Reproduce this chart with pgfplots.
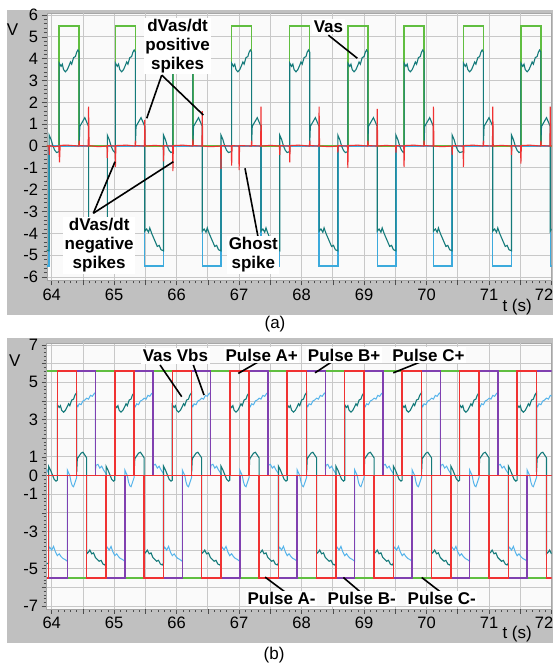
\documentclass[border=0pt]{standalone}
\usepackage{pgfplots}
\pgfplotsset{compat=1.18}
\usepackage{pgfplotstable}
\usepackage{fontspec}
\setmainfont{Liberation Sans}
\definecolor{frame}{RGB}{192,192,192}
\definecolor{gridc}{RGB}{200,200,200}
\definecolor{plotbg}{RGB}{250,250,250}
\definecolor{cgreen}{RGB}{96,190,64}
\definecolor{cblue}{RGB}{60,170,220}
\definecolor{cteal}{RGB}{20,122,122}
\definecolor{cred}{RGB}{240,50,50}
\definecolor{clblue}{RGB}{85,180,235}
\definecolor{cpurple}{RGB}{128,64,176}
\tikzset{lab/.style={fill=white, inner sep=1.5pt, align=center, font=\fontsize{17}{19}\selectfont\bfseries},
 txt/.style={font=\fontsize{17}{19}\selectfont},
 ann/.style={line width=1.6pt, black}}
\pgfplotsset{
 myaxis/.style={
  scale only axis, width=504.8pt, anchor=south west,
  xmin=63.92, xmax=72.0,
  xtick={64,...,72}, xticklabels={64,65,66,67,68,69,70,71,\hspace*{-15pt}72},
  minor x tick num=9,
  extra x ticks={64.5,65.5,66.5,67.5,68.5,69.5,70.5,71.5},
  extra x tick labels={},
  extra x tick style={grid=major},
  xmajorgrids, ymajorgrids,
  grid style={gridc, line width=0.8pt},
  tick align=outside, xtick pos=left, ytick pos=left,
  major tick length=5pt, minor tick length=3pt,
  tick style={black!70, line width=0.6pt},
  axis line style={gray!70},
  axis background/.style={fill=plotbg},
  ticklabel style={font=\fontsize{16.5}{18}\selectfont},
  clip mode=individual,
 }
}

% ---------- top panel data ----------
\pgfplotstableread[row sep=\\]{
t v\\
63.90 -4.75\\ 63.96 -4.8\\ 63.96 0.5\\ 63.99 0.3\\ 64.02 0.0\\ 64.05 -0.2\\ 64.08 -0.3\\
64.12 -0.25\\ 64.12 3.8\\ 64.15 3.65\\ 64.17 3.75\\ 64.19 3.5\\ 64.22 3.4\\ 64.25 3.5\\ 64.28 3.7\\ 64.30 3.85\\ 64.32 3.75\\ 64.35 4.05\\ 64.38 4.1\\ 64.40 4.3\\ 64.42 4.4\\ 64.44 4.3\\ 64.44 0.1\\ 64.45 0.9\\ 64.48 1.05\\ 64.50 1.15\\ 64.53 1.3\\ 64.56 1.1\\ 64.59 0.9\\ 64.59 -3.9\\ 64.62 -3.8\\ 64.65 -3.95\\ 64.67 -3.75\\ 64.70 -4.0\\ 64.73 -4.2\\ 64.76 -4.4\\ 64.79 -4.6\\ 64.82 -4.55\\ 64.85 -4.75\\ 64.89 -4.8\\ 64.89 0.5\\ 64.92 0.3\\ 64.95 0.0\\ 64.98 -0.2\\ 65.01 -0.3\\
65.02 -0.25\\ 65.02 3.8\\ 65.05 3.65\\ 65.07 3.75\\ 65.09 3.5\\ 65.12 3.4\\ 65.15 3.5\\ 65.18 3.7\\ 65.20 3.85\\ 65.22 3.75\\ 65.25 4.05\\ 65.28 4.1\\ 65.30 4.3\\ 65.32 4.4\\ 65.34 4.3\\ 65.34 0.1\\ 65.35 0.9\\ 65.38 1.05\\ 65.40 1.15\\ 65.43 1.3\\ 65.46 1.1\\ 65.49 0.9\\ 65.49 -3.9\\ 65.52 -3.8\\ 65.55 -3.95\\ 65.57 -3.75\\ 65.60 -4.0\\ 65.63 -4.2\\ 65.66 -4.4\\ 65.69 -4.6\\ 65.72 -4.55\\ 65.75 -4.75\\ 65.79 -4.8\\ 65.79 0.5\\ 65.82 0.3\\ 65.85 0.0\\ 65.88 -0.2\\ 65.91 -0.3\\
65.94 -0.25\\ 65.94 3.8\\ 65.97 3.65\\ 65.99 3.75\\ 66.01 3.5\\ 66.04 3.4\\ 66.07 3.5\\ 66.10 3.7\\ 66.12 3.85\\ 66.14 3.75\\ 66.17 4.05\\ 66.20 4.1\\ 66.22 4.3\\ 66.24 4.4\\ 66.26 4.3\\ 66.26 0.1\\ 66.27 0.9\\ 66.30 1.05\\ 66.32 1.15\\ 66.35 1.3\\ 66.38 1.1\\ 66.41 0.9\\ 66.41 -3.9\\ 66.44 -3.8\\ 66.47 -3.95\\ 66.49 -3.75\\ 66.52 -4.0\\ 66.55 -4.2\\ 66.58 -4.4\\ 66.61 -4.6\\ 66.64 -4.55\\ 66.67 -4.75\\ 66.71 -4.8\\ 66.71 0.5\\ 66.74 0.3\\ 66.77 0.0\\ 66.80 -0.2\\ 66.83 -0.3\\
66.88 -0.25\\ 66.88 3.8\\ 66.91 3.65\\ 66.93 3.75\\ 66.95 3.5\\ 66.98 3.4\\ 67.01 3.5\\ 67.04 3.7\\ 67.06 3.85\\ 67.08 3.75\\ 67.11 4.05\\ 67.14 4.1\\ 67.16 4.3\\ 67.18 4.4\\ 67.20 4.3\\ 67.20 0.1\\ 67.21 0.9\\ 67.24 1.05\\ 67.26 1.15\\ 67.29 1.3\\ 67.32 1.1\\ 67.35 0.9\\ 67.35 -3.9\\ 67.38 -3.8\\ 67.41 -3.95\\ 67.43 -3.75\\ 67.46 -4.0\\ 67.49 -4.2\\ 67.52 -4.4\\ 67.55 -4.6\\ 67.58 -4.55\\ 67.61 -4.75\\ 67.65 -4.8\\ 67.65 0.5\\ 67.68 0.3\\ 67.71 0.0\\ 67.74 -0.2\\ 67.77 -0.3\\
67.81 -0.25\\ 67.81 3.8\\ 67.84 3.65\\ 67.86 3.75\\ 67.88 3.5\\ 67.91 3.4\\ 67.94 3.5\\ 67.97 3.7\\ 67.99 3.85\\ 68.01 3.75\\ 68.04 4.05\\ 68.07 4.1\\ 68.09 4.3\\ 68.11 4.4\\ 68.13 4.3\\ 68.13 0.1\\ 68.14 0.9\\ 68.17 1.05\\ 68.19 1.15\\ 68.22 1.3\\ 68.25 1.1\\ 68.28 0.9\\ 68.28 -3.9\\ 68.31 -3.8\\ 68.34 -3.95\\ 68.36 -3.75\\ 68.39 -4.0\\ 68.42 -4.2\\ 68.45 -4.4\\ 68.48 -4.6\\ 68.51 -4.55\\ 68.54 -4.75\\ 68.58 -4.8\\ 68.58 0.5\\ 68.61 0.3\\ 68.64 0.0\\ 68.67 -0.2\\ 68.70 -0.3\\
68.74 -0.25\\ 68.74 3.8\\ 68.77 3.65\\ 68.79 3.75\\ 68.81 3.5\\ 68.84 3.4\\ 68.87 3.5\\ 68.90 3.7\\ 68.92 3.85\\ 68.94 3.75\\ 68.97 4.05\\ 69.00 4.1\\ 69.02 4.3\\ 69.04 4.4\\ 69.06 4.3\\ 69.06 0.1\\ 69.07 0.9\\ 69.10 1.05\\ 69.12 1.15\\ 69.15 1.3\\ 69.18 1.1\\ 69.21 0.9\\ 69.21 -3.9\\ 69.24 -3.8\\ 69.27 -3.95\\ 69.29 -3.75\\ 69.32 -4.0\\ 69.35 -4.2\\ 69.38 -4.4\\ 69.41 -4.6\\ 69.44 -4.55\\ 69.47 -4.75\\ 69.51 -4.8\\ 69.51 0.5\\ 69.54 0.3\\ 69.57 0.0\\ 69.60 -0.2\\ 69.63 -0.3\\
69.64 -0.25\\ 69.64 3.8\\ 69.67 3.65\\ 69.69 3.75\\ 69.71 3.5\\ 69.74 3.4\\ 69.77 3.5\\ 69.80 3.7\\ 69.82 3.85\\ 69.84 3.75\\ 69.87 4.05\\ 69.90 4.1\\ 69.92 4.3\\ 69.94 4.4\\ 69.96 4.3\\ 69.96 0.1\\ 69.97 0.9\\ 70.00 1.05\\ 70.02 1.15\\ 70.05 1.3\\ 70.08 1.1\\ 70.11 0.9\\ 70.11 -3.9\\ 70.14 -3.8\\ 70.17 -3.95\\ 70.19 -3.75\\ 70.22 -4.0\\ 70.25 -4.2\\ 70.28 -4.4\\ 70.31 -4.6\\ 70.34 -4.55\\ 70.37 -4.75\\ 70.41 -4.8\\ 70.41 0.5\\ 70.44 0.3\\ 70.47 0.0\\ 70.50 -0.2\\ 70.53 -0.3\\
70.59 -0.25\\ 70.59 3.8\\ 70.62 3.65\\ 70.64 3.75\\ 70.66 3.5\\ 70.69 3.4\\ 70.72 3.5\\ 70.75 3.7\\ 70.77 3.85\\ 70.79 3.75\\ 70.82 4.05\\ 70.85 4.1\\ 70.87 4.3\\ 70.89 4.4\\ 70.91 4.3\\ 70.91 0.1\\ 70.92 0.9\\ 70.95 1.05\\ 70.97 1.15\\ 71.00 1.3\\ 71.03 1.1\\ 71.06 0.9\\ 71.06 -3.9\\ 71.09 -3.8\\ 71.12 -3.95\\ 71.14 -3.75\\ 71.17 -4.0\\ 71.20 -4.2\\ 71.23 -4.4\\ 71.26 -4.6\\ 71.29 -4.55\\ 71.32 -4.75\\ 71.36 -4.8\\ 71.36 0.5\\ 71.39 0.3\\ 71.42 0.0\\ 71.45 -0.2\\ 71.48 -0.3\\
71.51 -0.25\\ 71.51 3.8\\ 71.54 3.65\\ 71.56 3.75\\ 71.58 3.5\\ 71.61 3.4\\ 71.64 3.5\\ 71.67 3.7\\ 71.69 3.85\\ 71.71 3.75\\ 71.74 4.05\\ 71.77 4.1\\ 71.79 4.3\\ 71.81 4.4\\ 71.83 4.3\\ 71.83 0.1\\ 71.84 0.9\\ 71.87 1.05\\ 71.89 1.15\\ 71.92 1.3\\ 71.95 1.1\\ 71.98 0.9\\ 71.98 -3.9\\ 72.00 -3.8\\
}\vastop

\pgfplotstableread[row sep=\\]{
t v\\
63.92 0\\ 63.955 0\\ 63.96 -0.4\\ 63.965 0.02\\ 64.05 -0.03\\
64.115 0\\ 64.125 -0.75\\ 64.135 0.03\\ 64.25 0.04\\ 64.435 0\\ 64.44 0.25\\ 64.445 0.02\\ 64.585 0\\ 64.59 1.8\\ 64.598 0.02\\ 64.75 -0.03\\ 64.885 0\\ 64.89 -0.55\\ 64.895 0.02\\
65.015 0\\ 65.02 -0.95\\ 65.027 0.02\\ 65.2 0.04\\ 65.335 0\\ 65.34 0.25\\ 65.345 0.02\\ 65.485 0\\ 65.49 1.2\\ 65.497 0\\ 65.65 0.03\\ 65.785 0\\ 65.79 -0.7\\ 65.797 0.02\\
65.935 0\\ 65.94 -1.15\\ 65.947 0.02\\ 66.1 0.04\\ 66.255 0\\ 66.26 0.3\\ 66.265 0.02\\ 66.405 0\\ 66.41 1.6\\ 66.417 0\\ 66.55 -0.03\\ 66.705 0\\ 66.71 -1.05\\ 66.717 0.02\\
66.875 0\\ 66.88 -0.9\\ 66.887 0.02\\ 66.995 0\\ 67.00 -1.1\\ 67.007 0.02\\ 67.195 0\\ 67.20 0.25\\ 67.205 0.02\\ 67.345 0\\ 67.35 1.8\\ 67.357 0\\ 67.5 0.03\\ 67.645 0\\ 67.65 -0.4\\ 67.657 0.02\\
67.805 0\\ 67.81 -0.75\\ 67.817 0.02\\ 67.95 0.04\\ 68.125 0\\ 68.13 0.25\\ 68.135 0.02\\ 68.275 0\\ 68.28 1.8\\ 68.287 0\\ 68.45 -0.03\\ 68.575 0\\ 68.58 -0.3\\ 68.587 0.02\\
68.735 0\\ 68.74 -1.0\\ 68.747 0.02\\ 68.9 0.04\\ 69.055 0\\ 69.06 0.25\\ 69.065 0.02\\ 69.205 0\\ 69.21 1.7\\ 69.217 0\\ 69.35 0.03\\ 69.505 0\\ 69.51 -0.3\\ 69.517 0.02\\
69.635 0\\ 69.64 -0.95\\ 69.647 0.02\\ 69.8 0.04\\ 69.955 0\\ 69.96 0.25\\ 69.965 0.02\\ 70.105 0\\ 70.11 1.8\\ 70.117 0\\ 70.25 -0.03\\ 70.405 0\\ 70.41 -0.4\\ 70.417 0.02\\
70.585 0\\ 70.59 -0.95\\ 70.597 0.02\\ 70.75 0.04\\ 70.905 0\\ 70.91 0.25\\ 70.915 0.02\\ 71.055 0\\ 71.06 1.8\\ 71.067 0\\ 71.2 0.03\\ 71.355 0\\ 71.36 -0.4\\ 71.367 0.02\\
71.505 0\\ 71.51 -0.8\\ 71.517 0.02\\ 71.65 0.04\\ 71.825 0\\ 71.83 0.25\\ 71.835 0.02\\ 71.975 0\\ 71.98 1.8\\ 71.987 0\\ 72.0 0\\
}\dvdt

% ---------- bottom panel data ----------
\pgfplotstableread[row sep=\\]{
t v\\
63.90 -4.75\\ 63.95 -4.7\\ 63.95 0.5\\ 63.98 0.3\\ 64.01 0.05\\ 64.04 -0.2\\ 64.07 -0.3\\
64.09 -0.25\\ 64.09 3.8\\ 64.12 3.65\\ 64.14 3.75\\ 64.16 3.5\\ 64.19 3.4\\ 64.22 3.5\\ 64.25 3.7\\ 64.27 3.85\\ 64.29 3.75\\ 64.32 4.05\\ 64.35 4.1\\ 64.37 4.3\\ 64.40 4.45\\ 64.40 0.2\\ 64.41 0.9\\ 64.44 1.05\\ 64.47 1.2\\ 64.50 1.25\\ 64.53 1.1\\ 64.56 0.95\\ 64.56 -4.2\\ 64.59 -4.1\\ 64.61 -4.0\\ 64.64 -4.2\\ 64.67 -4.15\\ 64.70 -4.4\\ 64.73 -4.5\\ 64.76 -4.6\\ 64.79 -4.55\\ 64.82 -4.75\\ 64.85 -4.8\\ 64.87 -4.7\\ 64.87 0.5\\ 64.90 0.3\\ 64.93 0.05\\ 64.96 -0.2\\ 64.99 -0.3\\
65.01 -0.25\\ 65.01 3.8\\ 65.04 3.65\\ 65.06 3.75\\ 65.08 3.5\\ 65.11 3.4\\ 65.14 3.5\\ 65.17 3.7\\ 65.19 3.85\\ 65.21 3.75\\ 65.24 4.05\\ 65.27 4.1\\ 65.29 4.3\\ 65.32 4.45\\ 65.32 0.2\\ 65.33 0.9\\ 65.36 1.05\\ 65.39 1.2\\ 65.42 1.25\\ 65.45 1.1\\ 65.48 0.95\\ 65.48 -4.2\\ 65.51 -4.1\\ 65.53 -4.0\\ 65.56 -4.2\\ 65.59 -4.15\\ 65.62 -4.4\\ 65.65 -4.5\\ 65.68 -4.6\\ 65.71 -4.55\\ 65.74 -4.75\\ 65.77 -4.8\\ 65.79 -4.7\\ 65.79 0.5\\ 65.82 0.3\\ 65.85 0.05\\ 65.88 -0.2\\ 65.91 -0.3\\
65.93 -0.25\\ 65.93 3.8\\ 65.96 3.65\\ 65.98 3.75\\ 66.00 3.5\\ 66.03 3.4\\ 66.06 3.5\\ 66.09 3.7\\ 66.11 3.85\\ 66.13 3.75\\ 66.16 4.05\\ 66.19 4.1\\ 66.21 4.3\\ 66.24 4.45\\ 66.24 0.2\\ 66.25 0.9\\ 66.28 1.05\\ 66.31 1.2\\ 66.34 1.25\\ 66.37 1.1\\ 66.40 0.95\\ 66.40 -4.2\\ 66.43 -4.1\\ 66.45 -4.0\\ 66.48 -4.2\\ 66.51 -4.15\\ 66.54 -4.4\\ 66.57 -4.5\\ 66.60 -4.6\\ 66.63 -4.55\\ 66.66 -4.75\\ 66.69 -4.8\\ 66.71 -4.7\\ 66.71 0.5\\ 66.74 0.3\\ 66.77 0.05\\ 66.80 -0.2\\ 66.83 -0.3\\
66.85 -0.25\\ 66.85 3.8\\ 66.88 3.65\\ 66.90 3.75\\ 66.92 3.5\\ 66.95 3.4\\ 66.98 3.5\\ 67.01 3.7\\ 67.03 3.85\\ 67.05 3.75\\ 67.08 4.05\\ 67.11 4.1\\ 67.13 4.3\\ 67.16 4.45\\ 67.16 0.2\\ 67.17 0.9\\ 67.20 1.05\\ 67.23 1.2\\ 67.26 1.25\\ 67.29 1.1\\ 67.32 0.95\\ 67.32 -4.2\\ 67.35 -4.1\\ 67.37 -4.0\\ 67.40 -4.2\\ 67.43 -4.15\\ 67.46 -4.4\\ 67.49 -4.5\\ 67.52 -4.6\\ 67.55 -4.55\\ 67.58 -4.75\\ 67.61 -4.8\\ 67.63 -4.7\\ 67.63 0.5\\ 67.66 0.3\\ 67.69 0.05\\ 67.72 -0.2\\ 67.75 -0.3\\
67.77 -0.25\\ 67.77 3.8\\ 67.80 3.65\\ 67.82 3.75\\ 67.84 3.5\\ 67.87 3.4\\ 67.90 3.5\\ 67.93 3.7\\ 67.95 3.85\\ 67.97 3.75\\ 68.00 4.05\\ 68.03 4.1\\ 68.05 4.3\\ 68.08 4.45\\ 68.08 0.2\\ 68.09 0.9\\ 68.12 1.05\\ 68.15 1.2\\ 68.18 1.25\\ 68.21 1.1\\ 68.24 0.95\\ 68.24 -4.2\\ 68.27 -4.1\\ 68.29 -4.0\\ 68.32 -4.2\\ 68.35 -4.15\\ 68.38 -4.4\\ 68.41 -4.5\\ 68.44 -4.6\\ 68.47 -4.55\\ 68.50 -4.75\\ 68.53 -4.8\\ 68.55 -4.7\\ 68.55 0.5\\ 68.58 0.3\\ 68.61 0.05\\ 68.64 -0.2\\ 68.67 -0.3\\
68.69 -0.25\\ 68.69 3.8\\ 68.72 3.65\\ 68.74 3.75\\ 68.76 3.5\\ 68.79 3.4\\ 68.82 3.5\\ 68.85 3.7\\ 68.87 3.85\\ 68.89 3.75\\ 68.92 4.05\\ 68.95 4.1\\ 68.97 4.3\\ 69.00 4.45\\ 69.00 0.2\\ 69.01 0.9\\ 69.04 1.05\\ 69.07 1.2\\ 69.10 1.25\\ 69.13 1.1\\ 69.16 0.95\\ 69.16 -4.2\\ 69.19 -4.1\\ 69.21 -4.0\\ 69.24 -4.2\\ 69.27 -4.15\\ 69.30 -4.4\\ 69.33 -4.5\\ 69.36 -4.6\\ 69.39 -4.55\\ 69.42 -4.75\\ 69.45 -4.8\\ 69.47 -4.7\\ 69.47 0.5\\ 69.50 0.3\\ 69.53 0.05\\ 69.56 -0.2\\ 69.59 -0.3\\
69.61 -0.25\\ 69.61 3.8\\ 69.64 3.65\\ 69.66 3.75\\ 69.68 3.5\\ 69.71 3.4\\ 69.74 3.5\\ 69.77 3.7\\ 69.79 3.85\\ 69.81 3.75\\ 69.84 4.05\\ 69.87 4.1\\ 69.89 4.3\\ 69.92 4.45\\ 69.92 0.2\\ 69.93 0.9\\ 69.96 1.05\\ 69.99 1.2\\ 70.02 1.25\\ 70.05 1.1\\ 70.08 0.95\\ 70.08 -4.2\\ 70.11 -4.1\\ 70.13 -4.0\\ 70.16 -4.2\\ 70.19 -4.15\\ 70.22 -4.4\\ 70.25 -4.5\\ 70.28 -4.6\\ 70.31 -4.55\\ 70.34 -4.75\\ 70.37 -4.8\\ 70.39 -4.7\\ 70.39 0.5\\ 70.42 0.3\\ 70.45 0.05\\ 70.48 -0.2\\ 70.51 -0.3\\
70.53 -0.25\\ 70.53 3.8\\ 70.56 3.65\\ 70.58 3.75\\ 70.60 3.5\\ 70.63 3.4\\ 70.66 3.5\\ 70.69 3.7\\ 70.71 3.85\\ 70.73 3.75\\ 70.76 4.05\\ 70.79 4.1\\ 70.81 4.3\\ 70.84 4.45\\ 70.84 0.2\\ 70.85 0.9\\ 70.88 1.05\\ 70.91 1.2\\ 70.94 1.25\\ 70.97 1.1\\ 71.00 0.95\\ 71.00 -4.2\\ 71.03 -4.1\\ 71.05 -4.0\\ 71.08 -4.2\\ 71.11 -4.15\\ 71.14 -4.4\\ 71.17 -4.5\\ 71.20 -4.6\\ 71.23 -4.55\\ 71.26 -4.75\\ 71.29 -4.8\\ 71.31 -4.7\\ 71.31 0.5\\ 71.34 0.3\\ 71.37 0.05\\ 71.40 -0.2\\ 71.43 -0.3\\
71.45 -0.25\\ 71.45 3.8\\ 71.48 3.65\\ 71.50 3.75\\ 71.52 3.5\\ 71.55 3.4\\ 71.58 3.5\\ 71.61 3.7\\ 71.63 3.85\\ 71.65 3.75\\ 71.68 4.05\\ 71.71 4.1\\ 71.73 4.3\\ 71.76 4.45\\ 71.76 0.2\\ 71.77 0.9\\ 71.80 1.05\\ 71.83 1.2\\ 71.86 1.25\\ 71.89 1.1\\ 71.92 0.95\\ 71.92 -4.2\\ 71.95 -4.1\\ 71.97 -4.0\\ 72.00 -4.2\\
}\vasbot

\pgfplotstableread[row sep=\\]{
t v\\
63.92 0.35\\ 63.95 0.1\\ 63.95 -3.95\\ 63.97 -3.85\\ 64.00 -4.0\\ 64.03 -3.8\\ 64.06 -4.1\\
64.09 -4.3\\ 64.12 -4.2\\ 64.15 -4.35\\ 64.18 -4.45\\ 64.21 -4.5\\ 64.25 -4.6\\ 64.25 0.3\\ 64.27 0.15\\ 64.29 0.0\\ 64.31 -0.35\\ 64.33 -0.55\\ 64.35 -0.6\\ 64.37 -0.4\\ 64.40 -0.1\\ 64.40 3.8\\ 64.42 3.7\\ 64.44 3.85\\ 64.47 3.8\\ 64.50 4.0\\ 64.53 4.05\\ 64.56 4.15\\ 64.59 4.1\\ 64.62 4.3\\ 64.65 4.25\\ 64.68 4.4\\ 64.70 4.45\\ 64.70 0.3\\ 64.71 0.55\\ 64.74 0.6\\ 64.77 0.4\\ 64.80 0.5\\ 64.83 0.3\\ 64.87 0.1\\ 64.87 -3.95\\ 64.89 -3.85\\ 64.92 -4.0\\ 64.95 -3.8\\ 64.98 -4.1\\
65.01 -4.3\\ 65.04 -4.2\\ 65.07 -4.35\\ 65.10 -4.45\\ 65.13 -4.5\\ 65.17 -4.6\\ 65.17 0.3\\ 65.19 0.15\\ 65.21 0.0\\ 65.23 -0.35\\ 65.25 -0.55\\ 65.27 -0.6\\ 65.29 -0.4\\ 65.32 -0.1\\ 65.32 3.8\\ 65.34 3.7\\ 65.36 3.85\\ 65.39 3.8\\ 65.42 4.0\\ 65.45 4.05\\ 65.48 4.15\\ 65.51 4.1\\ 65.54 4.3\\ 65.57 4.25\\ 65.60 4.4\\ 65.62 4.45\\ 65.62 0.3\\ 65.63 0.55\\ 65.66 0.6\\ 65.69 0.4\\ 65.72 0.5\\ 65.75 0.3\\ 65.79 0.1\\ 65.79 -3.95\\ 65.81 -3.85\\ 65.84 -4.0\\ 65.87 -3.8\\ 65.90 -4.1\\
65.93 -4.3\\ 65.96 -4.2\\ 65.99 -4.35\\ 66.02 -4.45\\ 66.05 -4.5\\ 66.09 -4.6\\ 66.09 0.3\\ 66.11 0.15\\ 66.13 0.0\\ 66.15 -0.35\\ 66.17 -0.55\\ 66.19 -0.6\\ 66.21 -0.4\\ 66.24 -0.1\\ 66.24 3.8\\ 66.26 3.7\\ 66.28 3.85\\ 66.31 3.8\\ 66.34 4.0\\ 66.37 4.05\\ 66.40 4.15\\ 66.43 4.1\\ 66.46 4.3\\ 66.49 4.25\\ 66.52 4.4\\ 66.54 4.45\\ 66.54 0.3\\ 66.55 0.55\\ 66.58 0.6\\ 66.61 0.4\\ 66.64 0.5\\ 66.67 0.3\\ 66.71 0.1\\ 66.71 -3.95\\ 66.73 -3.85\\ 66.76 -4.0\\ 66.79 -3.8\\ 66.82 -4.1\\
66.85 -4.3\\ 66.88 -4.2\\ 66.91 -4.35\\ 66.94 -4.45\\ 66.97 -4.5\\ 67.01 -4.6\\ 67.01 0.3\\ 67.03 0.15\\ 67.05 0.0\\ 67.07 -0.35\\ 67.09 -0.55\\ 67.11 -0.6\\ 67.13 -0.4\\ 67.16 -0.1\\ 67.16 3.8\\ 67.18 3.7\\ 67.20 3.85\\ 67.23 3.8\\ 67.26 4.0\\ 67.29 4.05\\ 67.32 4.15\\ 67.35 4.1\\ 67.38 4.3\\ 67.41 4.25\\ 67.44 4.4\\ 67.46 4.45\\ 67.46 0.3\\ 67.47 0.55\\ 67.50 0.6\\ 67.53 0.4\\ 67.56 0.5\\ 67.59 0.3\\ 67.63 0.1\\ 67.63 -3.95\\ 67.65 -3.85\\ 67.68 -4.0\\ 67.71 -3.8\\ 67.74 -4.1\\
67.77 -4.3\\ 67.80 -4.2\\ 67.83 -4.35\\ 67.86 -4.45\\ 67.89 -4.5\\ 67.93 -4.6\\ 67.93 0.3\\ 67.95 0.15\\ 67.97 0.0\\ 67.99 -0.35\\ 68.01 -0.55\\ 68.03 -0.6\\ 68.05 -0.4\\ 68.08 -0.1\\ 68.08 3.8\\ 68.10 3.7\\ 68.12 3.85\\ 68.15 3.8\\ 68.18 4.0\\ 68.21 4.05\\ 68.24 4.15\\ 68.27 4.1\\ 68.30 4.3\\ 68.33 4.25\\ 68.36 4.4\\ 68.38 4.45\\ 68.38 0.3\\ 68.39 0.55\\ 68.42 0.6\\ 68.45 0.4\\ 68.48 0.5\\ 68.51 0.3\\ 68.55 0.1\\ 68.55 -3.95\\ 68.57 -3.85\\ 68.60 -4.0\\ 68.63 -3.8\\ 68.66 -4.1\\
68.69 -4.3\\ 68.72 -4.2\\ 68.75 -4.35\\ 68.78 -4.45\\ 68.81 -4.5\\ 68.85 -4.6\\ 68.85 0.3\\ 68.87 0.15\\ 68.89 0.0\\ 68.91 -0.35\\ 68.93 -0.55\\ 68.95 -0.6\\ 68.97 -0.4\\ 69.00 -0.1\\ 69.00 3.8\\ 69.02 3.7\\ 69.04 3.85\\ 69.07 3.8\\ 69.10 4.0\\ 69.13 4.05\\ 69.16 4.15\\ 69.19 4.1\\ 69.22 4.3\\ 69.25 4.25\\ 69.28 4.4\\ 69.30 4.45\\ 69.30 0.3\\ 69.31 0.55\\ 69.34 0.6\\ 69.37 0.4\\ 69.40 0.5\\ 69.43 0.3\\ 69.47 0.1\\ 69.47 -3.95\\ 69.49 -3.85\\ 69.52 -4.0\\ 69.55 -3.8\\ 69.58 -4.1\\
69.61 -4.3\\ 69.64 -4.2\\ 69.67 -4.35\\ 69.70 -4.45\\ 69.73 -4.5\\ 69.77 -4.6\\ 69.77 0.3\\ 69.79 0.15\\ 69.81 0.0\\ 69.83 -0.35\\ 69.85 -0.55\\ 69.87 -0.6\\ 69.89 -0.4\\ 69.92 -0.1\\ 69.92 3.8\\ 69.94 3.7\\ 69.96 3.85\\ 69.99 3.8\\ 70.02 4.0\\ 70.05 4.05\\ 70.08 4.15\\ 70.11 4.1\\ 70.14 4.3\\ 70.17 4.25\\ 70.20 4.4\\ 70.22 4.45\\ 70.22 0.3\\ 70.23 0.55\\ 70.26 0.6\\ 70.29 0.4\\ 70.32 0.5\\ 70.35 0.3\\ 70.39 0.1\\ 70.39 -3.95\\ 70.41 -3.85\\ 70.44 -4.0\\ 70.47 -3.8\\ 70.50 -4.1\\
70.53 -4.3\\ 70.56 -4.2\\ 70.59 -4.35\\ 70.62 -4.45\\ 70.65 -4.5\\ 70.69 -4.6\\ 70.69 0.3\\ 70.71 0.15\\ 70.73 0.0\\ 70.75 -0.35\\ 70.77 -0.55\\ 70.79 -0.6\\ 70.81 -0.4\\ 70.84 -0.1\\ 70.84 3.8\\ 70.86 3.7\\ 70.88 3.85\\ 70.91 3.8\\ 70.94 4.0\\ 70.97 4.05\\ 71.00 4.15\\ 71.03 4.1\\ 71.06 4.3\\ 71.09 4.25\\ 71.12 4.4\\ 71.14 4.45\\ 71.14 0.3\\ 71.15 0.55\\ 71.18 0.6\\ 71.21 0.4\\ 71.24 0.5\\ 71.27 0.3\\ 71.31 0.1\\ 71.31 -3.95\\ 71.33 -3.85\\ 71.36 -4.0\\ 71.39 -3.8\\ 71.42 -4.1\\
71.45 -4.3\\ 71.48 -4.2\\ 71.51 -4.35\\ 71.54 -4.45\\ 71.57 -4.5\\ 71.61 -4.6\\ 71.61 0.3\\ 71.63 0.15\\ 71.65 0.0\\ 71.67 -0.35\\ 71.69 -0.55\\ 71.71 -0.6\\ 71.73 -0.4\\ 71.76 -0.1\\ 71.76 3.8\\ 71.78 3.7\\ 71.80 3.85\\ 71.83 3.8\\ 71.86 4.0\\ 71.89 4.05\\ 71.92 4.15\\ 71.95 4.1\\ 71.98 4.3\\ 72.01 4.25\\
}\vbsbot

\begin{document}
\begin{tikzpicture}[x=1pt,y=1pt]
\path[use as bounding box] (0pt,0pt) rectangle (553pt,666pt);
\fill[white] (0pt,0pt) rectangle (553pt,666pt);
\fill[frame] (7pt,351pt) rectangle (553pt,656pt);
\fill[frame] (7pt,23pt) rectangle (553pt,328pt);

% ================= TOP PANEL =================
\begin{axis}[myaxis, at={(46.7pt,385.7pt)}, height=267pt,
  ymin=-6.15, ymax=6.08, ytick={-6,...,6},
  yticklabels={-6,-5,-4,-3,-2,-1,0,1,2,3,4,5,6}, minor y tick num=4]
\addplot[cgreen, line width=1.4pt] coordinates {(63.92,0) (64.12,0) (64.12,5.5) (64.44,5.5) (64.44,0) (65.02,0) (65.02,5.5) (65.34,5.5) (65.34,0) (65.94,0) (65.94,5.5) (66.26,5.5) (66.26,0) (66.88,0) (66.88,5.5) (67.20,5.5) (67.20,0) (67.81,0) (67.81,5.5) (68.13,5.5) (68.13,0) (68.74,0) (68.74,5.5) (69.06,5.5) (69.06,0) (69.64,0) (69.64,5.5) (69.96,5.5) (69.96,0) (70.59,0) (70.59,5.5) (70.91,5.5) (70.91,0) (71.51,0) (71.51,5.5) (71.83,5.5) (71.83,0) (72.0,0)};
\addplot[cblue, line width=1.4pt] coordinates {(63.92,-5.5) (63.96,-5.5) (63.96,0) (64.59,0) (64.59,-5.5) (64.89,-5.5) (64.89,0) (65.49,0) (65.49,-5.5) (65.79,-5.5) (65.79,0) (66.41,0) (66.41,-5.5) (66.71,-5.5) (66.71,0) (67.35,0) (67.35,-5.5) (67.65,-5.5) (67.65,0) (68.28,0) (68.28,-5.5) (68.58,-5.5) (68.58,0) (69.21,0) (69.21,-5.5) (69.51,-5.5) (69.51,0) (70.11,0) (70.11,-5.5) (70.41,-5.5) (70.41,0) (71.06,0) (71.06,-5.5) (71.36,-5.5) (71.36,0) (71.98,0) (71.98,-5.5) (72.0,-5.5)};
\addplot[cteal, line width=1.1pt] table[x=t, y=v] {\vastop};
\addplot[cred, line width=1.1pt] table[x=t, y=v] {\dvdt};

\draw[ann] (axis cs:65.761,3.25) -- (axis cs:65.521,1.27);
\draw[ann] (axis cs:65.761,3.25) -- (axis cs:66.427,1.42);
\node[lab] at (axis cs:66.015,4.58) {dVas/dt\\positive\\spikes};
\draw[ann] (axis cs:68.428,5.08) -- (axis cs:68.892,4.02);
\node[lab] at (axis cs:68.43,5.46) {Vas};
\draw[ann] (axis cs:64.666,-3.08) -- (axis cs:65.013,-0.72);
\draw[ann] (axis cs:64.666,-3.08) -- (axis cs:65.947,-0.72);
\node[lab] at (axis cs:64.76,-4.54) {dVas/dt\\negative\\spikes};
\draw[ann] (axis cs:67.307,-4.23) -- (axis cs:67.094,-1.02);
\node[lab] at (axis cs:67.227,-4.99) {Ghost\\spike};
\node[txt] at (axis cs:63.372,5.31) {V};
\node[txt] at (axis cs:71.45,-7.40) {t (s)};
\node[txt] at (axis cs:67.574,-8.155) {(a)};
\end{axis}

% ================= BOTTOM PANEL =================
\begin{axis}[myaxis, at={(46.7pt,57.2pt)}, height=265.6pt,
  ymin=-7.15, ymax=7.1, ytick={-7,...,7},
  yticklabels={-7,,-5,,-3,,-1,0,1,,3,,5,,7}, minor y tick num=4]
\addplot[clblue, line width=1.0pt] table[x=t, y=v] {\vbsbot};
\addplot[cteal, line width=1.1pt] table[x=t, y=v] {\vasbot};
% C+ and C- (green)
\addplot[cgreen, line width=1.5pt] coordinates {(63.92,5.6) (64.09,5.6) (64.09,0) (64.70,0) (64.70,5.6) (65.01,5.6) (65.01,0) (65.62,0) (65.62,5.6) (65.93,5.6) (65.93,0) (66.54,0) (66.54,5.6) (66.85,5.6) (66.85,0) (67.46,0) (67.46,5.6) (67.77,5.6) (67.77,0) (68.38,0) (68.38,5.6) (68.69,5.6) (68.69,0) (69.30,0) (69.30,5.6) (69.61,5.6) (69.61,0) (70.22,0) (70.22,5.6) (70.53,5.6) (70.53,0) (71.14,0) (71.14,5.6) (71.45,5.6) (71.45,0) (72.0,0)};
\addplot[cgreen, line width=1.5pt] coordinates {(63.92,0) (64.25,0) (64.25,-5.5) (64.56,-5.5) (64.56,0) (65.17,0) (65.17,-5.5) (65.48,-5.5) (65.48,0) (66.09,0) (66.09,-5.5) (66.40,-5.5) (66.40,0) (67.01,0) (67.01,-5.5) (67.32,-5.5) (67.32,0) (67.93,0) (67.93,-5.5) (68.24,-5.5) (68.24,0) (68.85,0) (68.85,-5.5) (69.16,-5.5) (69.16,0) (69.77,0) (69.77,-5.5) (70.08,-5.5) (70.08,0) (70.69,0) (70.69,-5.5) (71.00,-5.5) (71.00,0) (71.61,0) (71.61,-5.5) (71.92,-5.5) (71.92,0) (72.0,0)};
% B+ and B- (purple)
\addplot[cpurple, line width=1.5pt] coordinates {(63.92,0) (64.40,0) (64.40,5.6) (64.70,5.6) (64.70,0) (65.32,0) (65.32,5.6) (65.62,5.6) (65.62,0) (66.24,0) (66.24,5.6) (66.54,5.6) (66.54,0) (67.16,0) (67.16,5.6) (67.46,5.6) (67.46,0) (68.08,0) (68.08,5.6) (68.38,5.6) (68.38,0) (69.00,0) (69.00,5.6) (69.30,5.6) (69.30,0) (69.92,0) (69.92,5.6) (70.22,5.6) (70.22,0) (70.84,0) (70.84,5.6) (71.14,5.6) (71.14,0) (71.76,0) (71.76,5.6) (72.0,5.6)};
\addplot[cpurple, line width=1.5pt] coordinates {(63.92,0) (63.95,0) (63.95,-5.5) (64.25,-5.5) (64.25,0) (64.87,0) (64.87,-5.5) (65.17,-5.5) (65.17,0) (65.79,0) (65.79,-5.5) (66.09,-5.5) (66.09,0) (66.71,0) (66.71,-5.5) (67.01,-5.5) (67.01,0) (67.63,0) (67.63,-5.5) (67.93,-5.5) (67.93,0) (68.55,0) (68.55,-5.5) (68.85,-5.5) (68.85,0) (69.47,0) (69.47,-5.5) (69.77,-5.5) (69.77,0) (70.39,0) (70.39,-5.5) (70.69,-5.5) (70.69,0) (71.31,0) (71.31,-5.5) (71.61,-5.5) (71.61,0) (72.0,0)};
% A+ and A- (red)
\addplot[cred, line width=1.5pt] coordinates {(63.92,0) (64.09,0) (64.09,5.6) (64.40,5.6) (64.40,0) (65.01,0) (65.01,5.6) (65.32,5.6) (65.32,0) (65.93,0) (65.93,5.6) (66.24,5.6) (66.24,0) (66.85,0) (66.85,5.6) (67.16,5.6) (67.16,0) (67.77,0) (67.77,5.6) (68.08,5.6) (68.08,0) (68.69,0) (68.69,5.6) (69.00,5.6) (69.00,0) (69.61,0) (69.61,5.6) (69.92,5.6) (69.92,0) (70.53,0) (70.53,5.6) (70.84,5.6) (70.84,0) (71.45,0) (71.45,5.6) (71.76,5.6) (71.76,0) (72.0,0)};
\addplot[cred, line width=1.5pt] coordinates {(63.92,-5.5) (63.95,-5.5) (63.95,0) (64.56,0) (64.56,-5.5) (64.87,-5.5) (64.87,0) (65.48,0) (65.48,-5.5) (65.79,-5.5) (65.79,0) (66.40,0) (66.40,-5.5) (66.71,-5.5) (66.71,0) (67.32,0) (67.32,-5.5) (67.63,-5.5) (67.63,0) (68.24,0) (68.24,-5.5) (68.55,-5.5) (68.55,0) (69.16,0) (69.16,-5.5) (69.47,-5.5) (69.47,0) (70.08,0) (70.08,-5.5) (70.39,-5.5) (70.39,0) (71.00,0) (71.00,-5.5) (71.31,-5.5) (71.31,0) (71.92,0) (71.92,-5.5) (72.0,-5.5)};

\draw[ann] (axis cs:65.734,5.93) -- (axis cs:66.081,4.23);
\draw[ann] (axis cs:66.267,5.93) -- (axis cs:66.438,4.32);
\node[lab] at (axis cs:65.98,6.42) {Vas Vbs};
\draw[ann] (axis cs:67.307,6.10) -- (axis cs:66.987,5.48);
\node[lab] at (axis cs:67.362,6.46) {Pulse A+};
\draw[ann] (axis cs:68.482,6.10) -- (axis cs:68.215,5.51);
\node[lab] at (axis cs:68.68,6.46) {Pulse B+};
\draw[ann] (axis cs:69.905,6.10) -- (axis cs:69.468,5.51);
\node[lab] at (axis cs:70.03,6.46) {Pulse C+};
\draw[ann] (axis cs:67.416,-5.45) -- (axis cs:67.735,-6.25);
\node[lab] at (axis cs:67.68,-6.59) {Pulse A-};
\draw[ann] (axis cs:68.668,-5.47) -- (axis cs:68.935,-6.23);
\node[lab] at (axis cs:68.962,-6.59) {Pulse B-};
\draw[ann] (axis cs:69.923,-5.47) -- (axis cs:70.216,-6.23);
\node[lab] at (axis cs:70.243,-6.59) {Pulse C-};
\node[txt] at (axis cs:63.41,6.14) {V};
\node[txt] at (axis cs:71.45,-8.53) {t (s)};
\node[txt] at (axis cs:67.56,-9.63) {(b)};
\end{axis}
\end{tikzpicture}
\end{document}
